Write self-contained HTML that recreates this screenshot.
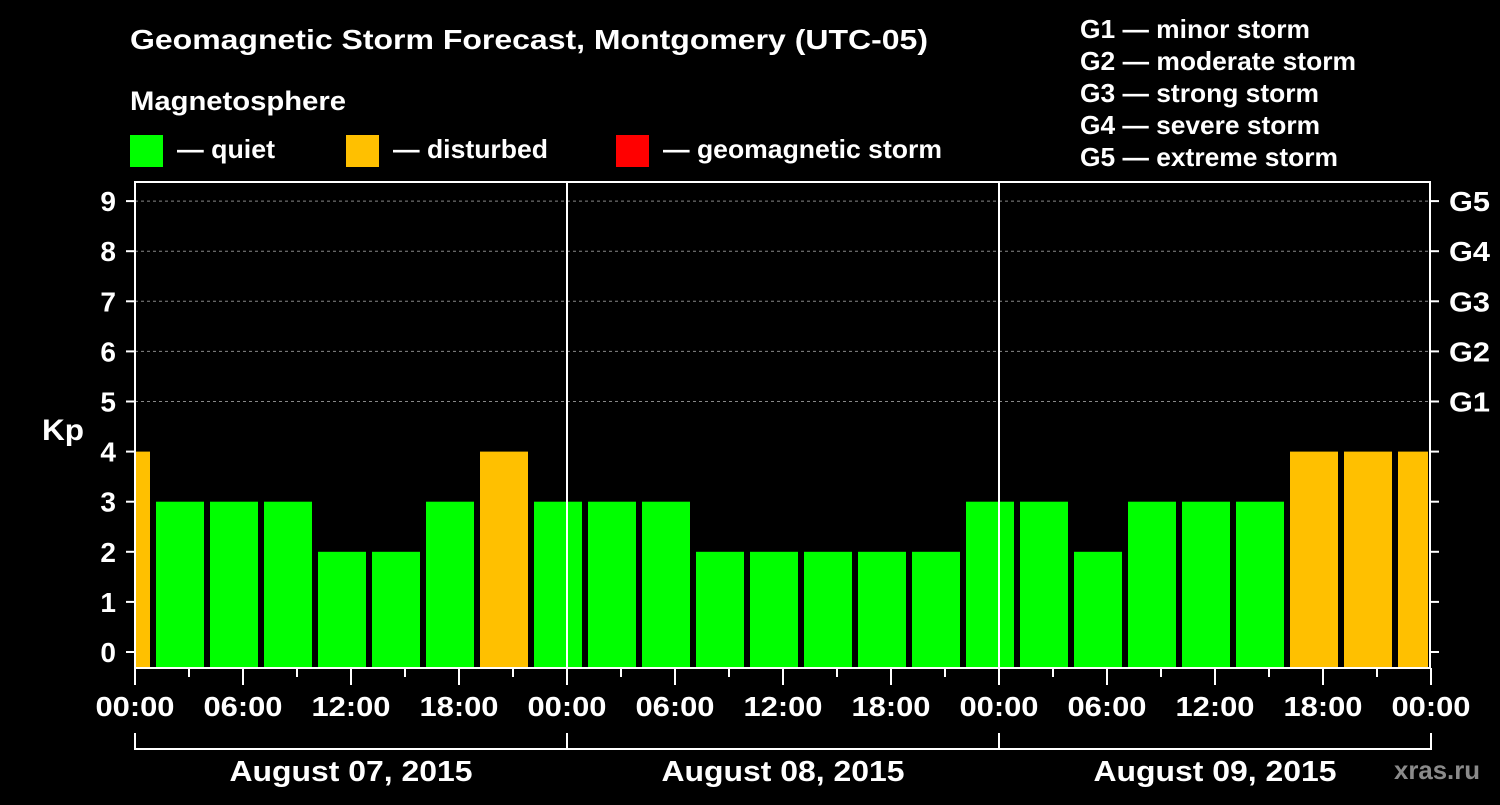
<!DOCTYPE html>
<html><head><meta charset="utf-8"><style>
body{margin:0;background:#000;width:1500px;height:800px;overflow:hidden}
svg text{font-family:"Liberation Sans",Arial,sans-serif;font-weight:bold;fill:#fff}
</style></head><body>
<svg id="chart" width="1500" height="800" xmlns="http://www.w3.org/2000/svg">
<text x="130" y="49" font-size="28" textLength="798" lengthAdjust="spacingAndGlyphs">Geomagnetic Storm Forecast, Montgomery (UTC-05)</text>
<text x="130" y="110" font-size="27" textLength="216" lengthAdjust="spacingAndGlyphs">Magnetosphere</text>
<g><rect x="130" y="135" width="33" height="32" fill="#00ff00"/><text x="177" y="158" font-size="26" textLength="98" lengthAdjust="spacingAndGlyphs">— quiet</text></g>
<g><rect x="346" y="135" width="33" height="32" fill="#ffc000"/><text x="393" y="158" font-size="26" textLength="155" lengthAdjust="spacingAndGlyphs">— disturbed</text></g>
<g><rect x="616" y="135" width="33" height="32" fill="#ff0000"/><text x="663" y="158" font-size="26" textLength="279" lengthAdjust="spacingAndGlyphs">— geomagnetic storm</text></g>
<g font-size="26">
<text x="1080" y="38" textLength="230" lengthAdjust="spacingAndGlyphs">G1 — minor storm</text><text x="1080" y="70" textLength="276" lengthAdjust="spacingAndGlyphs">G2 — moderate storm</text><text x="1080" y="102" textLength="239" lengthAdjust="spacingAndGlyphs">G3 — strong storm</text><text x="1080" y="134" textLength="240" lengthAdjust="spacingAndGlyphs">G4 — severe storm</text><text x="1080" y="166" textLength="258" lengthAdjust="spacingAndGlyphs">G5 — extreme storm</text></g>
<text x="42" y="440" font-size="30" textLength="42" lengthAdjust="spacingAndGlyphs">Kp</text>
<text x="1394" y="779" font-size="26" textLength="86" lengthAdjust="spacingAndGlyphs" style="fill:#8a8a8a">xras.ru</text>
<g id="plot"></g>
</svg>
<script>
const values=[4,3,3,3,2,2,3,4,3,3,3,2,2,2,2,2,3,3,2,3,3,3,4,4,4];
const yTicks=[0,1,2,3,4,5,6,7,8,9];
const gLabels=["G1","G2","G3","G4","G5"];
const xLabels=["00:00","06:00","12:00","18:00","00:00","06:00","12:00","18:00","00:00","06:00","12:00","18:00","00:00"];
const days=["August 07, 2015","August 08, 2015","August 09, 2015"];
const L=135,R=1430,T=182,B=668;
const x=h=>L+h*18;
const y=v=>652-v*50.1;
const NS="http://www.w3.org/2000/svg";
const g=document.getElementById('plot');
function mk(t,a,txt){const e=document.createElementNS(NS,t);for(const k in a)e.setAttribute(k,a[k]);if(txt!==undefined)e.textContent=txt;g.appendChild(e);return e;}
yTicks.forEach(v=>{
 if(v>=5){const e=mk('line',{x1:L,x2:R,y1:y(v),y2:y(v),stroke:'#888','stroke-dasharray':'3,3','stroke-width':1});
 
 }
 const t=mk('line',{x1:L-9,x2:L,y1:y(v),y2:y(v),stroke:'#fff','stroke-width':2});
 
 
 const t2=mk('line',{x1:R,x2:R+9,y1:y(v),y2:y(v),stroke:'#fff','stroke-width':2});
 
 
 const l=mk('text',{x:L-19,y:y(v)+10,'font-size':28,'text-anchor':'end'},String(v));
 
 
});
gLabels.forEach((s,i)=>{
 const l=mk('text',{x:R+19,y:y(5+i)+10,'font-size':28,textLength:41,lengthAdjust:'spacingAndGlyphs'},s);
 
 
});
values.forEach((v,i)=>{
 let x0=x(-2+3*i)+3,x1=x(1+3*i)-3;
 x0=Math.max(x0,L+1);x1=Math.min(x1,R-2);
 const c=v>=5?'#ff0000':(v>=4?'#ffc000':'#00ff00');
 const r=mk('rect',{x:x0,y:y(v),width:x1-x0,height:B-y(v),fill:c});
 
 
});
const f=mk('rect',{x:L,y:T,width:R-L,height:B-T,fill:'none',stroke:'#fff','stroke-width':2});


[1,2].forEach(d=>{const e=mk('line',{x1:x(24*d),x2:x(24*d),y1:T,y2:B,stroke:'#fff','stroke-width':2});
 
 });
for(let h=0;h<=72;h+=3){
 const e=mk('line',{x1:x(h),x2:x(h),y1:B,y2:B+(h%6===0?17:9),stroke:'#fff','stroke-width':2});
 
 
}
xLabels.forEach((s,i)=>{
 const l=mk('text',{x:x(6*i),y:716,'font-size':28,'text-anchor':'middle',textLength:79,lengthAdjust:'spacingAndGlyphs'},s);
 
 
});
const br=mk('line',{x1:L,x2:R,y1:749,y2:749,stroke:'#fff','stroke-width':2});


for(let d=0;d<=3;d++){const e=mk('line',{x1:x(24*d),x2:x(24*d),y1:733,y2:750,stroke:'#fff','stroke-width':2});
 
 }
days.forEach((s,i)=>{
 const l=mk('text',{x:x(24*i+12),y:781,'font-size':29,'text-anchor':'middle',textLength:243,lengthAdjust:'spacingAndGlyphs'},s);
 
 
});
</script>
</body></html>
